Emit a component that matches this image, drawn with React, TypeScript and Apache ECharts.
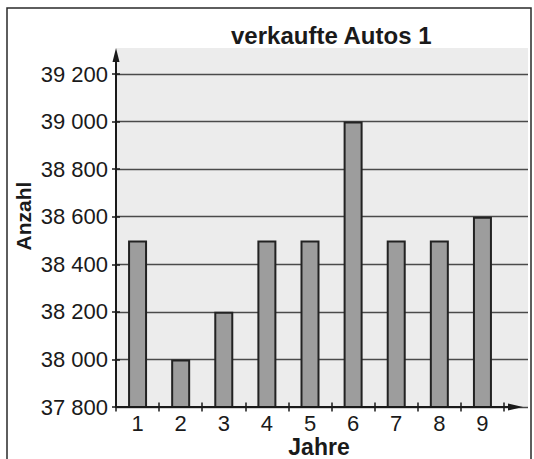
import React, { useEffect, useRef } from "react";
import * as echarts from "echarts";

// ---- data ----
const years: string[] = ["1", "2", "3", "4", "5", "6", "7", "8", "9"];
const soldCars: number[] = [38500, 38000, 38200, 38500, 38500, 39000, 38500, 38500, 38600];
const Y_MIN = 37800;
const Y_MAX = 39200;
const Y_STEP = 200;
const TITLE = "verkaufte Autos 1";
const X_NAME = "Jahre";
const Y_NAME = "Anzahl";

// ---- layout ----
const W = 534;
const H = 459;
const PLOT_LEFT = 116;
const PLOT_TOP = 74;
const PLOT_BOTTOM = 407;
const CAT_RIGHT = 504;
const BG_RIGHT = 528;
const BG_TOP = 48;
const FONT = "'Liberation Sans', Arial, Helvetica, sans-serif";
const INK = "#1a1a1a";

function fmt(v: number): string {
  const th = Math.floor(v / 1000);
  const rest = String(v % 1000).padStart(3, "0");
  return `${th} ${rest}`;
}

export default function App() {
  const ref = useRef<HTMLDivElement>(null);
  useEffect(() => {
    if (!ref.current) return;
    const chart = echarts.init(ref.current, undefined, { renderer: "svg" });
    const plotH = PLOT_BOTTOM - PLOT_TOP;
    chart.setOption({
      animation: false,
      backgroundColor: "#ffffff",
      textStyle: { fontFamily: FONT },
      title: {
        text: TITLE,
        left: 226,
        top: 18,
        textStyle: { fontFamily: FONT, fontSize: 24, fontWeight: "bold", color: INK },
      },
      grid: [
        { left: PLOT_LEFT, top: PLOT_TOP, width: CAT_RIGHT - PLOT_LEFT, height: plotH },
        { left: PLOT_LEFT, top: PLOT_TOP, width: BG_RIGHT - PLOT_LEFT, height: plotH },
      ],
      xAxis: [
        {
          type: "category",
          gridIndex: 0,
          data: years,
          boundaryGap: true,
          axisLine: { show: false },
          axisTick: { show: true, inside: false, length: 4.5, lineStyle: { color: INK, width: 1.5 } },
          axisLabel: { fontSize: 22, lineHeight: 17, color: INK, margin: 8, fontFamily: FONT },
          splitLine: { show: false },
        },
        {
          type: "category",
          gridIndex: 0,
          data: years,
          position: "bottom",
          boundaryGap: true,
          axisLine: { show: false },
          axisTick: { show: true, inside: true, length: 4.5, lineStyle: { color: INK, width: 1.5 } },
          axisLabel: { show: false },
          splitLine: { show: false },
        },
        {
          type: "value",
          gridIndex: 1,
          min: 0,
          max: 1,
          show: false,
        },
      ],
      yAxis: [
        {
          type: "value",
          gridIndex: 0,
          min: Y_MIN,
          max: Y_MAX,
          interval: Y_STEP,
          axisLine: { show: false },
          axisTick: { show: true, inside: false, length: 4, lineStyle: { color: INK, width: 1.5 } },
          axisLabel: { fontSize: 22, color: INK, margin: 8, formatter: (v: number) => fmt(v), fontFamily: FONT },
          splitLine: { show: false },
        },
        {
          type: "value",
          gridIndex: 1,
          min: Y_MIN,
          max: Y_MAX,
          interval: Y_STEP,
          axisLine: { show: false },
          axisTick: { show: true, inside: true, length: 4, lineStyle: { color: INK, width: 1.5 } },
          axisLabel: { show: false },
          splitLine: { show: true, lineStyle: { color: "#4a4a4a", width: 1.3 } },
        },
      ],
      series: [
        {
          type: "bar",
          xAxisIndex: 0,
          yAxisIndex: 0,
          data: soldCars,
          barWidth: 19,
          itemStyle: { color: "#9d9d9d", borderColor: "#222222", borderWidth: 2 },
          z: 3,
        },
      ],
      graphic: [
        {
          type: "rect",
          z: -10,
          silent: true,
          shape: { x: PLOT_LEFT, y: BG_TOP, width: BG_RIGHT - PLOT_LEFT, height: PLOT_BOTTOM - BG_TOP },
          style: { fill: "#ececec" },
        },
        {
          type: "rect",
          z: 10,
          silent: true,
          shape: { x: 7, y: 8, width: W - 3 - 7, height: H + 20 },
          style: { fill: "none", stroke: "#2a2a2a", lineWidth: 1.5 },
        },
        {
          type: "line",
          z: 10,
          silent: true,
          shape: { x1: PLOT_LEFT, y1: PLOT_BOTTOM, x2: PLOT_LEFT, y2: BG_TOP + 8 },
          style: { stroke: INK, lineWidth: 2 },
        },
        {
          type: "polygon",
          z: 10,
          silent: true,
          shape: { points: [[PLOT_LEFT, BG_TOP], [PLOT_LEFT - 3.5, BG_TOP + 14], [PLOT_LEFT + 3.5, BG_TOP + 14]] },
          style: { fill: INK },
        },
        {
          type: "line",
          z: 10,
          silent: true,
          shape: { x1: PLOT_LEFT - 1, y1: PLOT_BOTTOM, x2: BG_RIGHT - 10, y2: PLOT_BOTTOM },
          style: { stroke: INK, lineWidth: 2 },
        },
        {
          type: "polygon",
          z: 10,
          silent: true,
          shape: { points: [[BG_RIGHT - 5, PLOT_BOTTOM], [BG_RIGHT - 20, PLOT_BOTTOM - 3.5], [BG_RIGHT - 20, PLOT_BOTTOM + 3.5]] },
          style: { fill: INK },
        },
        {
          type: "text",
          z: 10,
          x: 319,
          y: 447,
          style: {
            text: X_NAME,
            fontFamily: FONT,
            fontSize: 23,
            fontWeight: "bold",
            fill: INK,
            textAlign: "center",
            textVerticalAlign: "middle",
          },
        },
        {
          type: "text",
          z: 10,
          x: 23,
          y: 216,
          rotation: Math.PI / 2,
          style: {
            text: Y_NAME,
            fontFamily: FONT,
            fontSize: 21,
            fontWeight: "bold",
            fill: INK,
            textAlign: "center",
            textVerticalAlign: "middle",
          },
        },
      ],
    });
    return () => chart.dispose();
  }, []);
  return (
    <div
      ref={ref}
      style={{ position: "fixed", left: 0, top: 0, width: W, height: H }}
    />
  );
}
